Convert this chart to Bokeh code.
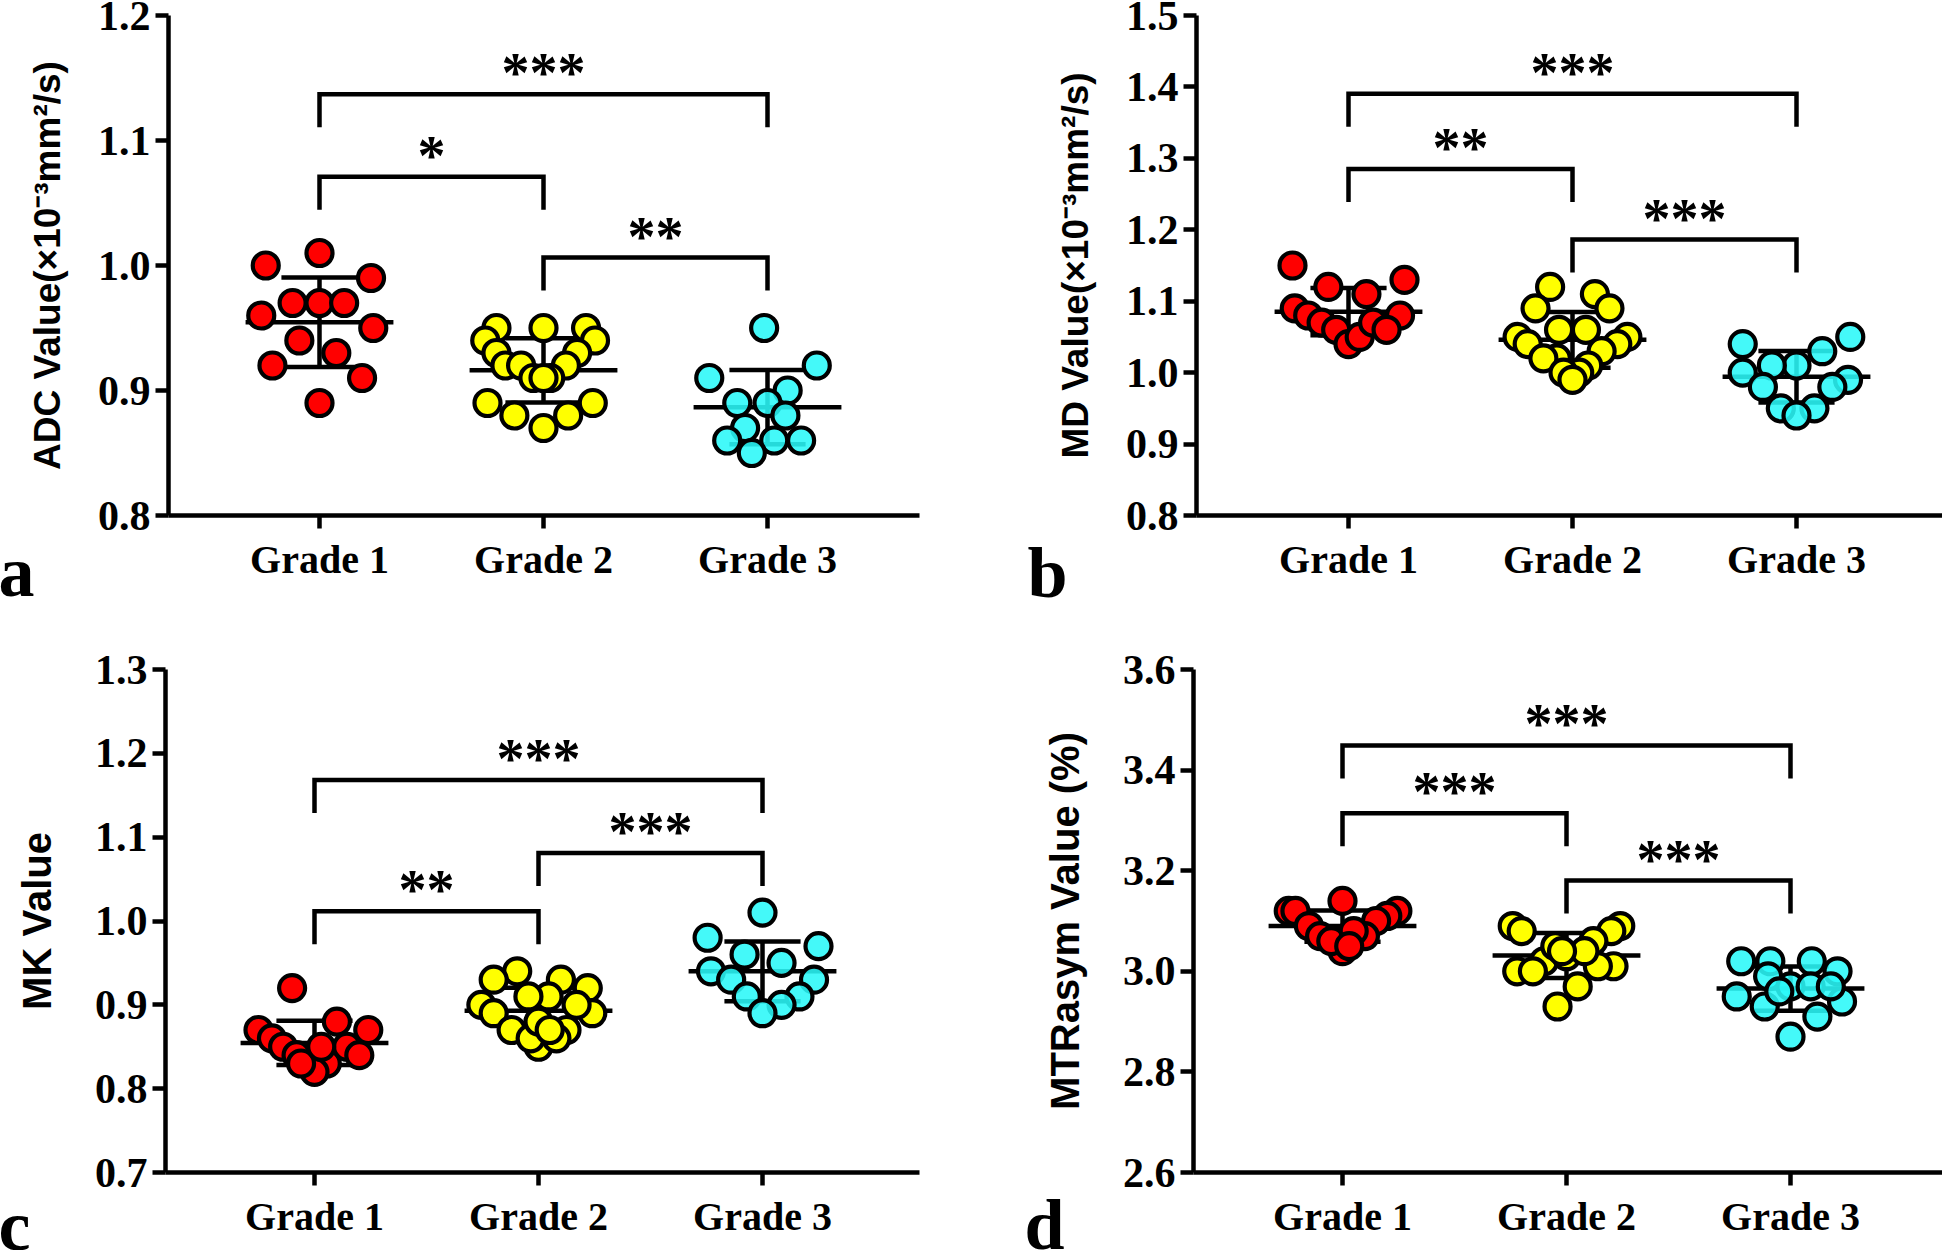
import numpy as np
from bokeh.plotting import figure
from bokeh.models import Range1d, FixedTicker, PrintfTickFormatter, Label, ColumnDataSource
from bokeh.layouts import column, row
from bokeh.embed import file_html
from bokeh.resources import INLINE
from bokeh.core.properties import value

# ---------------- data ----------------
categories = ["Grade 1", "Grade 2", "Grade 3"]
group_colors = ["#FF0000", "#FFFF00", "#2AF8F8"]

# Panel a: ADC
a_g1 = [1.01, 1.00, 0.99, 0.97, 0.97, 0.97, 0.96, 0.95, 0.94, 0.93, 0.92, 0.91, 0.89]
a_g1_jit = [0.0, -0.24, 0.23, -0.12, 0.0, 0.11, -0.26, 0.24, -0.09, 0.075, -0.21, 0.19, 0.0]
a_g2 = [0.95, 0.95, 0.95, 0.94, 0.94, 0.93, 0.93, 0.92, 0.92, 0.92, 0.91, 0.91, 0.91, 0.89, 0.89, 0.88, 0.88, 0.87]
a_g2_jit = [-0.21, 0.0, 0.19, -0.26, 0.23, -0.21, 0.15, -0.17, -0.10, 0.10, -0.045, 0.03, 0.0, -0.25, 0.22, -0.13, 0.11, 0.0]
a_g3 = [0.95, 0.91, 0.92, 0.90, 0.89, 0.89, 0.88, 0.87, 0.86, 0.86, 0.86, 0.85]
a_g3_jit = [-0.015, -0.26, 0.22, 0.09, -0.135, 0.0, 0.08, -0.10, -0.18, 0.03, 0.15, -0.07]

# Panel b: MD
b_g1 = [1.15, 1.12, 1.11, 1.13, 1.09, 1.08, 1.08, 1.07, 1.06, 1.04, 1.05, 1.07, 1.06]
b_g1_jit = [-0.25, -0.09, 0.08, 0.25, -0.24, -0.18, 0.23, -0.12, -0.055, 0.0, 0.05, 0.11, 0.17]
b_g2 = [1.12, 1.11, 1.09, 1.09, 1.06, 1.06, 1.05, 1.05, 1.04, 1.04, 1.02, 1.03, 1.01, 1.02, 1.00, 1.00, 0.99]
b_g2_jit = [-0.10, 0.10, -0.165, 0.165, -0.06, 0.06, -0.245, 0.245, -0.2, 0.2, -0.07, 0.13, 0.07, -0.13, 0.03, -0.04, 0.0]
b_g3 = [1.04, 1.05, 1.03, 1.01, 1.00, 1.01, 0.99, 0.98, 0.98, 0.95, 0.95, 0.94]
b_g3_jit = [-0.24, 0.24, 0.115, 0.0, -0.24, -0.11, 0.23, -0.15, 0.16, -0.07, 0.08, 0.0]

# Panel c: MK
c_g1 = [0.92, 0.87, 0.88, 0.87, 0.86, 0.85, 0.85, 0.84, 0.84, 0.83, 0.82, 0.83, 0.85]
c_g1_jit = [-0.10, -0.25, 0.10, 0.24, -0.19, -0.14, 0.145, 0.20, -0.08, 0.055, 0.0, -0.06, 0.03]
c_g2 = [0.94, 0.93, 0.93, 0.92, 0.91, 0.91, 0.90, 0.89, 0.89, 0.87, 0.87, 0.85, 0.86, 0.86, 0.90, 0.88, 0.87]
c_g2_jit = [-0.095, 0.10, -0.20, 0.22, 0.045, -0.045, -0.255, 0.24, -0.20, -0.12, 0.125, 0.0, -0.035, 0.08, 0.17, 0.0, 0.05]
c_g3 = [1.01, 0.98, 0.97, 0.96, 0.95, 0.94, 0.93, 0.93, 0.91, 0.91, 0.90, 0.89]
c_g3_jit = [0.0, -0.245, 0.25, -0.08, 0.085, -0.23, 0.23, -0.14, -0.07, 0.165, 0.085, 0.0]

# Panel d: MTRasym
d_g1 = [3.14, 3.12, 3.12, 3.12, 3.11, 3.09, 3.10, 3.07, 3.07, 3.04, 3.06, 3.08, 3.05]
d_g1_jit = [0.0, -0.24, -0.21, 0.245, 0.20, -0.15, 0.15, -0.10, 0.10, 0.0, -0.05, 0.05, 0.03]
d_g2 = [3.09, 3.08, 3.09, 3.08, 3.06, 3.00, 3.02, 3.03, 3.01, 3.01, 2.97, 2.93, 3.00, 3.04, 3.05, 3.04]
d_g2_jit = [-0.24, -0.20, 0.24, 0.20, 0.12, -0.22, -0.10, 0.0, 0.21, 0.14, 0.05, -0.04, -0.15, 0.08, -0.05, -0.02]
d_g3 = [3.02, 3.02, 3.02, 3.00, 2.99, 2.97, 2.97, 2.95, 2.93, 2.94, 2.91, 2.87, 2.97, 2.96]
d_g3_jit = [-0.22, -0.09, 0.095, 0.21, -0.10, 0.0, 0.09, -0.24, -0.115, 0.23, 0.12, 0.0, 0.18, -0.05]

# significance brackets: (from group, to group, level, label)
a_brackets = [(0, 2, 1.137, "***"), (0, 1, 1.071, "*"), (1, 2, 1.0064, "**")]
b_brackets = [(0, 2, 1.3906, "***"), (0, 1, 1.285, "**"), (1, 2, 1.1864, "***")]
c_brackets = [(0, 2, 1.1683, "***"), (1, 2, 1.081, "***"), (0, 1, 1.0116, "**")]
d_brackets = [(0, 2, 3.449, "***"), (0, 1, 3.314, "***"), (1, 2, 3.1805, "***")]

a_ticks = [0.8, 0.9, 1.0, 1.1, 1.2]
b_ticks = [0.8, 0.9, 1.0, 1.1, 1.2, 1.3, 1.4, 1.5]
c_ticks = [0.7, 0.8, 0.9, 1.0, 1.1, 1.2, 1.3]
d_ticks = [2.6, 2.8, 3.0, 3.2, 3.4, 3.6]

a_label = "ADC Value(\u00d710\u207b\u00b3mm\u00b2/s)"
b_label = "MD Value(\u00d710\u207b\u00b3mm\u00b2/s)"
c_label = "MK Value"
d_label = "MTRasym Value (%)"

# ---------------- layout (page pixels) ----------------
SPACING = 224.0  # px between category centres

panels = [
    dict(letter="a", fig_x=0, fig_y=0, fig_w=972, fig_h=626, L=168, R=919, T=15, B=515, g1=319,
         yr=(0.8, 1.2), ticks=a_ticks, label=a_label, lab_size="37px", lab_stand=27,
         groups=[(a_g1, a_g1_jit), (a_g2, a_g2_jit), (a_g3, a_g3_jit)], brackets=a_brackets,
         letter_side="right", letter_xy=(-921, 515 - 592 + 21)),
    dict(letter="b", fig_x=972, fig_y=0, fig_w=970, fig_h=626, L=1196, R=1942, T=15, B=515, g1=1348,
         yr=(0.8, 1.5), ticks=b_ticks, label=b_label, lab_size="37px", lab_stand=27,
         groups=[(b_g1, b_g1_jit), (b_g2, b_g2_jit), (b_g3, b_g3_jit)], brackets=b_brackets,
         letter_side="left", letter_xy=(16, 515 - 593 + 21)),
    dict(letter="c", fig_x=0, fig_y=626, fig_w=972, fig_h=624, L=165, R=919, T=669, B=1172, g1=314,
         yr=(0.7, 1.3), ticks=c_ticks, label=c_label, lab_size="40px", lab_stand=33,
         groups=[(c_g1, c_g1_jit), (c_g2, c_g2_jit), (c_g3, c_g3_jit)], brackets=c_brackets,
         letter_side="right", letter_xy=(-921, 1172 - 1246 + 21)),
    dict(letter="d", fig_x=972, fig_y=626, fig_w=970, fig_h=624, L=1193, R=1942, T=669, B=1172, g1=1342,
         yr=(2.6, 3.6), ticks=d_ticks, label=d_label, lab_size="40px", lab_stand=33,
         groups=[(d_g1, d_g1_jit), (d_g2, d_g2_jit), (d_g3, d_g3_jit)], brackets=d_brackets,
         letter_side="left", letter_xy=(25, 1172 - 1245 + 21)),
]

SERIF = "Liberation Serif"
SANS = "Liberation Sans"
LW = 4.5
STAR_LIFT = 21  # px from bracket line to star baseline


def make_panel(s):
    x0 = -(s["g1"] - s["L"]) / SPACING
    x1 = (s["R"] - s["g1"]) / SPACING
    y0, y1 = s["yr"]
    fw = s["R"] - s["L"]
    fh = s["B"] - s["T"]
    p = figure(frame_width=fw, frame_height=fh,
               min_border_left=s["L"] - s["fig_x"],
               min_border_right=s["fig_x"] + s["fig_w"] - s["R"],
               min_border_top=s["T"] - s["fig_y"],
               min_border_bottom=s["fig_y"] + s["fig_h"] - s["B"],
               x_range=Range1d(x0, x1), y_range=Range1d(y0, y1),
               output_backend="svg", toolbar_location=None, tools="")
    p.outline_line_color = None
    p.grid.visible = False
    p.background_fill_color = "white"
    p.border_fill_color = "white"

    # axes
    for ax in (p.xaxis[0], p.yaxis[0]):
        ax.axis_line_width = LW
        ax.axis_line_color = "black"
        ax.major_tick_line_width = LW
        ax.major_tick_line_color = "black"
        ax.major_tick_out = 13
        ax.major_tick_in = 0
        ax.minor_tick_line_color = None
        ax.major_label_text_font = SERIF
        ax.major_label_text_font_style = "bold"
        ax.major_label_text_color = "black"
    p.xaxis[0].major_label_text_font_size = "40px"
    p.xaxis[0].ticker = FixedTicker(ticks=[0, 1, 2], minor_ticks=[])
    p.xaxis[0].major_label_overrides = {0: categories[0], 1: categories[1], 2: categories[2]}
    p.xaxis[0].major_label_standoff = 8
    p.yaxis[0].major_label_text_font_size = "42px"
    p.yaxis[0].ticker = FixedTicker(ticks=s["ticks"], minor_ticks=[])
    p.yaxis[0].formatter = PrintfTickFormatter(format="%.1f")
    p.yaxis[0].major_label_standoff = 5
    p.yaxis[0].axis_label = s["label"]
    p.yaxis[0].axis_label_text_font = SANS
    p.yaxis[0].axis_label_text_font_style = "bold"
    p.yaxis[0].axis_label_text_font_size = s["lab_size"]
    p.yaxis[0].axis_label_text_color = "black"
    p.yaxis[0].axis_label_standoff = s["lab_stand"]

    # error bars (mean +/- SD) under the points
    vx, vy0, vy1, cx0, cx1, cy, means = [], [], [], [], [], [], []
    for i, (vals, jit) in enumerate(s["groups"]):
        v = np.array(vals)
        m = v.mean()
        sd = v.std(ddof=1)
        means.append(m)
        vx.append(i); vy0.append(m - sd); vy1.append(m + sd)
        for yy in (m - sd, m + sd):
            cx0.append(i - 0.17); cx1.append(i + 0.17); cy.append(yy)
    p.segment(x0=[i - 0.33 for i in range(3)], x1=[i + 0.33 for i in range(3)],
              y0=means, y1=means, line_color="black", line_width=LW)
    p.segment(x0=vx, x1=vx, y0=vy0, y1=vy1, line_color="black", line_width=LW)
    p.segment(x0=cx0, x1=cx1, y0=cy, y1=cy, line_color="black", line_width=LW)

    for i, (vals, jit) in enumerate(s["groups"]):
        xs = [i + j for j in jit]
        p.scatter(xs, vals, marker="circle", size=26, fill_color=group_colors[i],
                  fill_alpha=0.88 if i == 2 else 1.0,
                  line_color="black", line_width=4.2)

    # significance brackets
    upp = (y1 - y0) / fh  # data units per pixel
    drop = 33.0 * upp
    xsl, ysl, tx, ty, tt = [], [], [], [], []
    for (g_a, g_b, lev, lab) in s["brackets"]:
        xsl.append([g_a, g_a, g_b, g_b])
        ysl.append([lev - drop, lev, lev, lev - drop])
        tx.append((g_a + g_b) / 2.0); ty.append(lev + STAR_LIFT * upp); tt.append(lab)
    p.multi_line(xsl, ysl, line_color="black", line_width=LW, line_join="miter")
    src = ColumnDataSource(dict(x=tx, y=ty, t=tt))
    p.text(x="x", y="y", text="t", source=src, text_font=value(SERIF),
           text_font_style="bold", text_font_size="56px", text_align="center",
           text_baseline="alphabetic", text_color="black")

    # panel letter (placed in a side panel so it is not clipped to the frame)
    lx, ly = s["letter_xy"]
    p.add_layout(Label(x=lx, y=ly, x_units="screen", y_units="screen", text=s["letter"],
                       text_font=SERIF, text_font_style="bold", text_font_size="72px",
                       text_align="left", text_baseline="alphabetic", text_color="black"),
                 s["letter_side"])
    return p


figs = [make_panel(s) for s in panels]
layout = column(row(figs[0], figs[1]), row(figs[2], figs[3]))

open("out.html", "w").write(file_html(layout, INLINE, title="Grade comparison"))
